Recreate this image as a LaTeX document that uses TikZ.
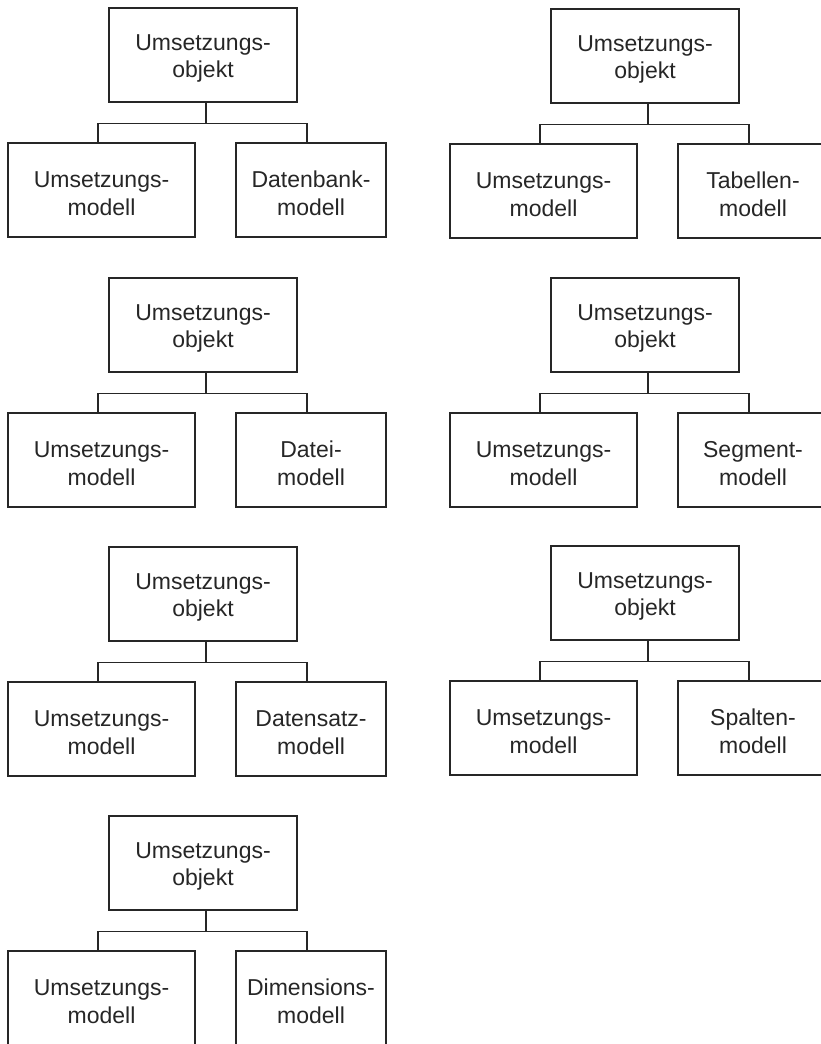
\documentclass[tikz,border=0pt]{standalone}
\usepackage{fontspec}
\setmainfont{Liberation Sans}
% raises the first line of a label so the two-line text sits slightly low
\newcommand\lblstrut{\rule{0pt}{23pt}}
\begin{document}
\begin{tikzpicture}[x=1pt,y=-1pt,
  box/.style={draw=black!85,line width=1.5pt,inner sep=0pt,outer sep=0pt,
    minimum height=94pt,align=center,text=black!85,
    font=\fontsize{23}{27.5}\selectfont},
  topbox/.style={box,minimum width=188pt},
  leftbox/.style={box,minimum width=187pt},
  rightbox/.style={box,minimum width=150pt},
  link/.style={draw=black!85,line width=1.6pt}]
\useasboundingbox (0,0) rectangle (821,1044);
\clip (0,0) rectangle (821,1044);
\newcommand\umtree[4]{%
  \begin{scope}[shift={(#2,#3)}]
    \node[topbox]   (#1t) at (203,55)    {\lblstrut Umsetzungs-\\objekt};
    \node[leftbox]  (#1l) at (101.5,190) {\lblstrut Umsetzungs-\\modell};
    \node[rightbox] (#1r) at (311,190)   {\lblstrut #4};
  \end{scope}
  \path ([xshift=3pt]#1t.south) ++(0,21.5) coordinate (#1j);
  \draw[link] ([xshift=3pt]#1t.south) -- (#1j);
  \draw[link] ([xshift=-3.5pt]#1l.north) |- (#1j) -| ([xshift=-4pt]#1r.north);
}
% left column
\umtree{a}{0}{0}{Datenbank-\\modell}
\umtree{b}{0}{270}{Datei-\\modell}
\umtree{c}{0}{539}{Datensatz-\\modell}
\umtree{d}{0}{808}{Dimensions-\\modell}
% right column
\umtree{e}{442}{1}{Tabellen-\\modell}
\umtree{f}{442}{270}{Segment-\\modell}
\umtree{g}{442}{538}{Spalten-\\modell}
\end{tikzpicture}
\end{document}
